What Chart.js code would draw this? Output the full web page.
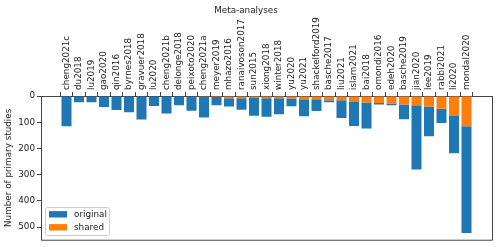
<!DOCTYPE html>
<html>
<head>
<meta charset="utf-8">
<style>
html,body{margin:0;padding:0;background:#fff;}
#c{display:block;}
</style>
<script src="https://cdn.jsdelivr.net/npm/chart.js@4/dist/chart.umd.min.js"></script>
</head>
<body>
<canvas id="c" width="500" height="247"></canvas>
<script>
const categories = ["cheng2021c","du2018","lu2019","gao2020","qin2016","byrnes2018","gravuer2018","lu2020","cheng2021b","delonge2018","peixoto2020","cheng2021a","meyer2019","mhazo2016","ranaivoson2017","sun2015","xiong2018","winter2018","yu2020","yu2021","shackelford2019","basche2017","liu2021","islam2021","bai2018","omondi2016","edeh2020","basche2019","jian2020","lee2019","rabbi2021","li2020","mondal2020"];
const shared   = [0,0,0,0,0,0,0,0,0,2,2,3,4,9,9,8,9,9,10,12,12,16,16,23,25,27,29,32,35,40,49,76,115];
const original = [115,24,24,42,53,62,90,38,67,33,54,79,31,31,43,67,70,61,29,65,45,8,68,91,99,5,6,57,245,113,54,142,407];
const yTicks = [0,100,200,300,400,500];
const seriesNames = ["original","shared"];
const titleText = "Meta-analyses";
const yTitle = "Number of primary studies";

const FONT = {family:"'DejaVu Sans', sans-serif", size:8.8};
const BLUE = '#1f77b4', ORANGE = '#ff7f0e', AXIS = '#444', TXT = '#222';

const framePlugin = {
  id:'frame',
  afterDraw(chart){
    const {ctx, chartArea:a} = chart;
    ctx.save();
    ctx.strokeStyle = AXIS; ctx.lineWidth = 1;
    ctx.beginPath();
    ctx.moveTo(a.right+0.5, a.top); ctx.lineTo(a.right+0.5, a.bottom+0.5);
    ctx.lineTo(a.left, a.bottom+0.5);
    ctx.stroke();
    // legend
    const bx = 45.5, by = 207.5, bw = 64, bh = 28;
    ctx.fillStyle = 'rgba(255,255,255,0.8)';
    ctx.strokeStyle = '#ccc';
    ctx.beginPath();
    ctx.roundRect(bx, by, bw, bh, 2);
    ctx.fill(); ctx.stroke();
    const items = [
      {label: chart.data.datasets[1].label, color: chart.data.datasets[1].backgroundColor},
      {label: chart.data.datasets[0].label, color: chart.data.datasets[0].backgroundColor}
    ];
    ctx.font = FONT.size + "px " + FONT.family;
    ctx.textBaseline = 'middle';
    items.forEach((it,i)=>{
      const y = 214.3 + i*13;
      ctx.fillStyle = it.color;
      ctx.fillRect(49, y-3.2, 18, 6.4);
      ctx.fillStyle = TXT;
      ctx.fillText(it.label, 74, y+0.5);
    });
    ctx.restore();
  }
};

new Chart(document.getElementById('c'), {
  type:'bar',
  data:{
    datasets:[
      {label:seriesNames[1], data:categories.map((c,i)=>({x:i,y:shared[i]})), backgroundColor:ORANGE, borderWidth:0},
      {label:seriesNames[0], data:categories.map((c,i)=>({x:i,y:original[i]})), backgroundColor:BLUE, borderWidth:0}
    ]
  },
  options:{
    responsive:false,
    animation:false,
    devicePixelRatio:1,
    categoryPercentage:0.8,
    barPercentage:1.0,
    layout:{padding:{left:0,right:8,top:0,bottom:6}},
    plugins:{
      legend:{display:false},
      tooltip:{enabled:false},
      title:{display:true, text:titleText, color:TXT, font:{...FONT, weight:'normal'}, padding:{top:5,bottom:0}}
    },
    scales:{
      x:{
        type:'linear', position:'top', min:-2.04, max:34.04, stacked:true, offset:false,
        grid:{drawOnChartArea:false, drawTicks:true, tickLength:4, color:AXIS},
        border:{color:AXIS, width:1},
        ticks:{autoSkip:false, minRotation:90, maxRotation:90, padding:2, labelOffset:10.5, color:TXT, font:FONT,
          callback:(v)=> categories[v] !== undefined ? categories[v] : ''},
        afterBuildTicks:(s)=>{ s.ticks = categories.map((c,i)=>({value:i})); },
        afterFit:(s)=>{ s.height = 96 - 15.56; }
      },
      y:{
        type:'linear', reverse:true, min:0, max:548, stacked:true,
        grid:{drawOnChartArea:false, drawTicks:true, tickLength:4, color:AXIS},
        border:{color:AXIS, width:1},
        ticks:{color:TXT, font:FONT, padding:2},
        afterBuildTicks:(s)=>{ s.ticks = yTicks.map(v=>({value:v})); },
        title:{display:true, text:yTitle, color:TXT, font:FONT, padding:{top:3.5,bottom:0}},
        afterFit:(s)=>{ s.width = 41; }
      }
    }
  },
  plugins:[framePlugin]
});
</script>
</body>
</html>
